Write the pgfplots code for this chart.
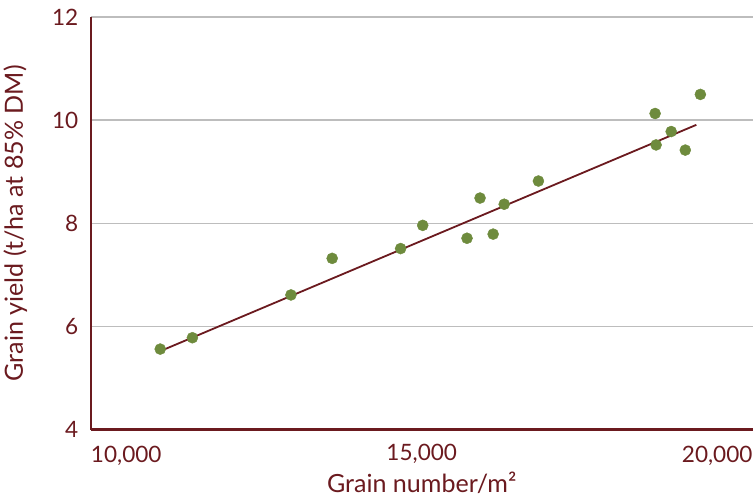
\documentclass[border=0pt]{standalone}
\usepackage{pgfplots}
\pgfplotsset{compat=1.18}
\usepackage{fontspec}
\setmainfont{Lato}
\definecolor{maroon}{HTML}{6B1A1F}
\definecolor{olive}{HTML}{6E8B3D}
\definecolor{gridgray}{HTML}{BDBDBD}
\begin{document}
\begin{tikzpicture}
\begin{axis}[
  scale only axis,
  width=658bp, height=410bp,
  xmin=10000, xmax=20000,
  ymin=4, ymax=12,
  xtick={10000,15000,20000},
  xticklabels={,{15,000},},
  scaled x ticks=false,
  ytick={4,6,8,10,12},
  axis x line=bottom, axis y line=left,
  axis line style={maroon, line width=2.2bp, -},
  major tick length=0pt,
  ymajorgrids,
  grid style={gridgray, line width=1.5bp},
  font=\fontsize{22.5}{27}\selectfont,
  /pgf/number format/assume math mode=true,
  tick label style={text=maroon},
  yticklabel style={xshift=-9bp},
  xticklabel style={yshift=-11bp},
  xlabel={Grain number/m²},
  ylabel={Grain yield (t/ha at 85\% DM)},
  label style={text=maroon, font=\fontsize{25}{29}\selectfont},
  xlabel style={yshift=-2bp},
  ylabel style={yshift=18bp},
  clip=false,
]
% observed points
\addplot[only marks, mark=*, mark size=5.5bp, mark options={fill=olive, draw=olive}]
  coordinates {
  (11049,5.56) (11535,5.78) (13024,6.61) (13647,7.32) (14681,7.51)
  (15015,7.96) (15684,7.71) (15881,8.49) (16079,7.79) (16246,8.37)
  (16763,8.82) (18526,10.13) (19210,10.50) (18769,9.78) (18541,9.52)
  (18982,9.42)
};
% linear fit
\addplot[maroon, line width=1.8bp] coordinates {(11049,5.52) (19149,9.91)};
\node[anchor=north west, text=maroon, inner sep=0pt] at (axis cs:10000,4) [yshift=-16bp] {10,000};
\node[anchor=north east, text=maroon, inner sep=0pt] at (axis cs:20000,4) [yshift=-16bp] {20,000};
% top margin as in the original
\path (rel axis cs:0,1) ++(0pt,17bp);
\end{axis}
\end{tikzpicture}
\end{document}
